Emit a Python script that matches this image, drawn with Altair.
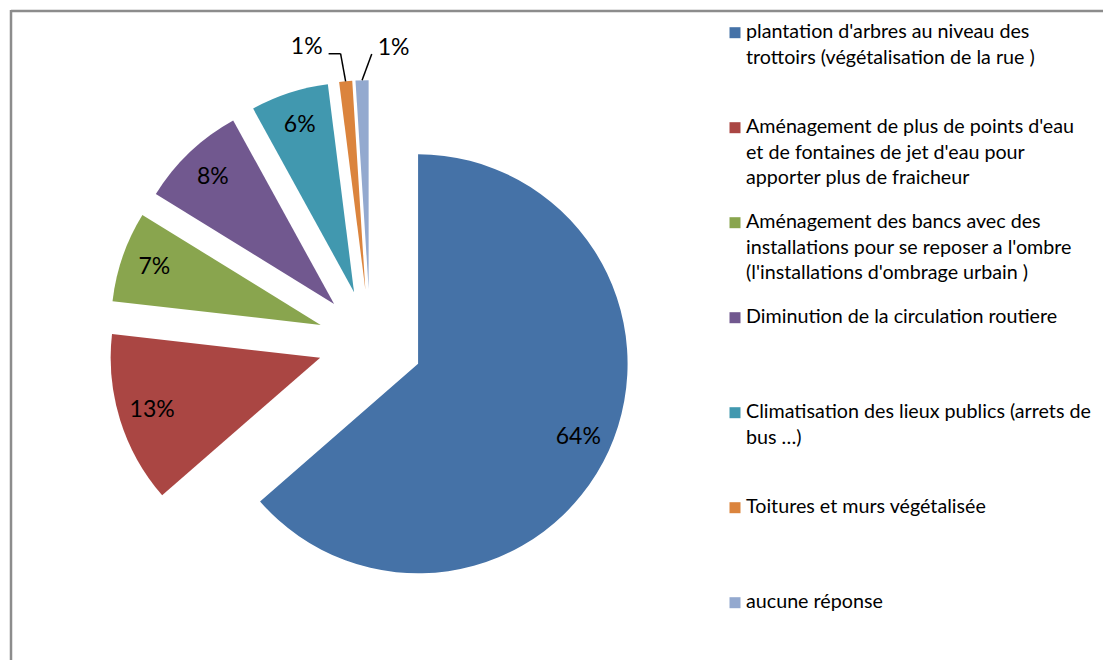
import altair as alt
import pandas as pd

# ---- data ----
categories = [
    "plantation d'arbres au niveau des trottoirs (végétalisation de la rue )",
    "Aménagement de plus de points d'eau et de fontaines de jet d'eau pour apporter plus de fraicheur",
    "Aménagement des bancs avec des installations pour se reposer a l'ombre (l'installations d'ombrage urbain )",
    "Diminution de la circulation routiere",
    "Climatisation des lieux publics (arrets de bus …)",
    "Toitures et murs végétalisée",
    "aucune réponse",
]
legend_lines = [
    "plantation d'arbres au niveau des\ntrottoirs (végétalisation de la rue )",
    "Aménagement de plus de points d'eau\net de fontaines de jet d'eau pour\napporter plus de fraicheur",
    "Aménagement des bancs avec des\ninstallations pour se reposer a l'ombre\n(l'installations d'ombrage urbain )",
    "Diminution de la circulation routiere",
    "Climatisation des lieux publics (arrets de\nbus …)",
    "Toitures et murs végétalisée",
    "aucune réponse",
]
shares = [63.6, 13.2, 7.0, 8.2, 6.0, 1.0, 1.0]

# ---- styling ----
colors = ["#4572A7", "#AA4643", "#89A54E", "#71588F", "#4198AF", "#DB843D", "#93A9CF"]
label_side = [0, 0, 0, 0, 0, -1, 1]       # 0 = label inside slice, -1/1 = outside with leader
leader_turn = [0, 0, 0, 0, 0, -5, 22]     # degrees the leader line turns from the radial
CX, CY = 362.3, 332.1   # pie centre (px)
R = 209.5               # pie radius
EXPLODE = 52.5          # explosion distance
LABEL_R = 176
LEADER = 28
FONT = "Lato"
PIE_FS = 23
LEG_FS = 19.7

W, H = 1095, 650

df = pd.DataFrame({
    "cat": categories,
    "share": shares,
    "order": list(range(len(categories))),
    "side": label_side,
    "turn": leader_turn,
})

color = alt.Color("cat:N", scale=alt.Scale(domain=categories, range=colors), legend=None)
xs = lambda f: alt.X(f, type="quantitative", scale=None, axis=None)
ys = lambda f: alt.Y(f, type="quantitative", scale=None, axis=None)

base = (
    alt.Chart(df)
    .transform_window(end="sum(share)", sort=[alt.SortField("order")], frame=[None, 0])
    .transform_calculate(start="datum.end - datum.share")
    .transform_calculate(mid="PI*(datum.start + datum.end)/100")
    .transform_calculate(
        cx=f"{CX} + {EXPLODE}*sin(datum.mid)",
        cy=f"{CY} - {EXPLODE}*cos(datum.mid)",
    )
    .transform_calculate(
        lx=f"datum.cx + {LABEL_R}*sin(datum.mid)",
        ly=f"datum.cy - {LABEL_R}*cos(datum.mid)",
        ox=f"datum.cx + {R}*sin(datum.mid)",
        oy=f"datum.cy - {R}*cos(datum.mid)",
        txt="format(round(datum.share), 'd') + '%'",
    )
    .transform_calculate(
        ex=f"datum.ox + {LEADER}*sin(datum.mid + datum.turn*PI/180)",
        ey=f"datum.oy - {LEADER}*cos(datum.mid + datum.turn*PI/180)",
    )
    .transform_calculate(
        tx="datum.side < 0 ? datum.ex - 12 : datum.ex",
    )
)

arcs = base.mark_arc(radius=R).encode(
    theta=alt.Theta("start:Q", scale=alt.Scale(domain=[0, 100], range=[0, 6.283185307179586])),
    theta2="end:Q",
    x=xs("cx"),
    y=ys("cy"),
    color=color,
)

inside_labels = base.transform_filter("datum.side == 0").mark_text(
    font=FONT, fontSize=PIE_FS, color="black", align="center", baseline="middle"
).encode(x=xs("lx"), y=ys("ly"), text="txt:N")

leader1 = base.transform_filter("datum.side != 0").mark_rule(color="black", strokeWidth=1.5).encode(
    x=xs("ox"), y=ys("oy"), x2="ex:Q", y2="ey:Q"
)
leader2 = base.transform_filter("datum.side < 0").mark_rule(color="black", strokeWidth=1.5).encode(
    x=xs("ex"), y=ys("ey"), x2="tx:Q", y2="ey:Q"
)
left_labels = base.transform_filter("datum.side < 0").mark_text(
    font=FONT, fontSize=PIE_FS, color="black", align="right", baseline="middle", dx=-6, dy=-7
).encode(x=xs("tx"), y=ys("ey"), text="txt:N")
right_labels = base.transform_filter("datum.side > 0").mark_text(
    font=FONT, fontSize=PIE_FS, color="black", align="left", baseline="middle", dx=6, dy=-6
).encode(x=xs("tx"), y=ys("ey"), text="txt:N")

# ---- legend drawn as marks ----
leg_df = pd.DataFrame({"cat": categories, "lab": legend_lines, "order": list(range(len(categories)))})
leg_base = alt.Chart(leg_df).transform_calculate(
    ly="22.7 + 95*datum.order",
    sx="727",
    tx="738",
)
leg_sq = leg_base.mark_square(size=121, opacity=1).encode(x=xs("sx"), y=ys("ly"), color=color)
leg_txt = leg_base.mark_text(
    font=FONT, fontSize=LEG_FS, color="black", align="left", baseline="alphabetic", dy=5.5,
    lineHeight=25.5, lineBreak="\n"
).encode(x=xs("tx"), y=ys("ly"), text="lab:N")

# ---- frame (top and left edges visible in the picture) ----
frame_df = pd.DataFrame({"k": [0]})
frame_left = alt.Chart(frame_df).mark_rule(color="#8c8c8c", strokeWidth=2.5).encode(
    x=alt.value(3), y=alt.value(0), y2=alt.value(H)
)
frame_top = alt.Chart(frame_df).mark_rule(color="#8c8c8c", strokeWidth=2.5).encode(
    x=alt.value(3), x2=alt.value(W), y=alt.value(1)
)

chart = alt.layer(
    frame_left, frame_top, arcs, inside_labels, leader1, leader2, left_labels, right_labels, leg_sq, leg_txt
).properties(
    width=W, height=H, padding={"left": 0, "top": 0, "right": 0, "bottom": 0}
).configure_view(stroke=None)

chart.save("out.html", embed_options={"renderer": "svg", "actions": False})
